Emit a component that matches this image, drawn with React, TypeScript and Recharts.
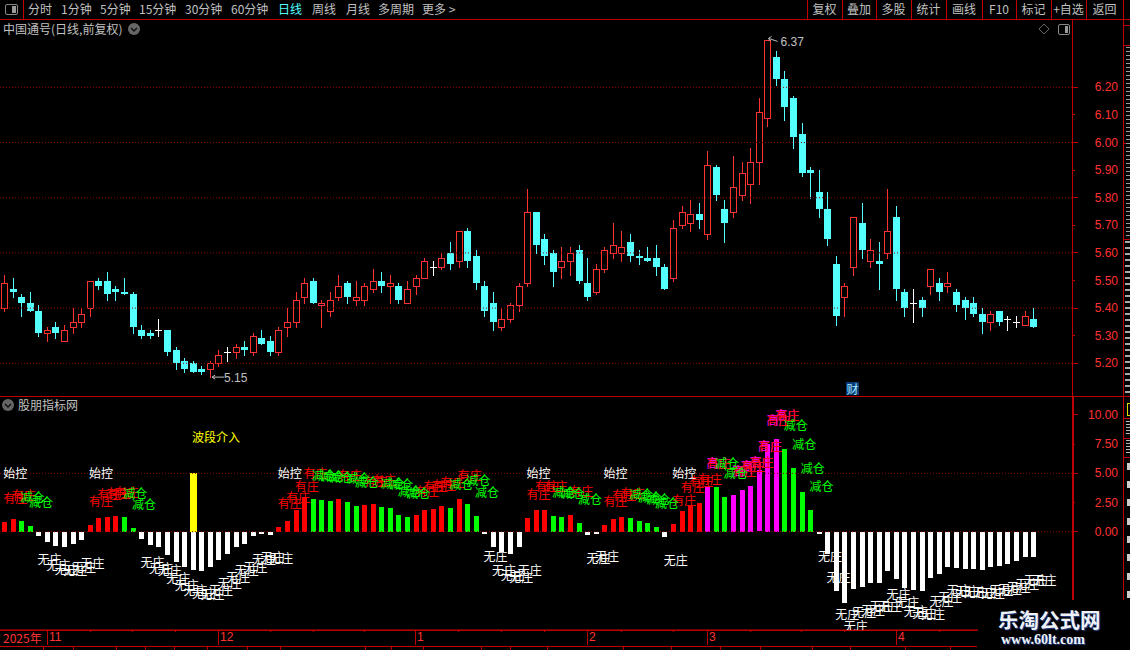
import React from "react";
import {
  Bar,
  ComposedChart,
  Line,
  ReferenceDot,
  ReferenceLine,
  XAxis,
  YAxis,
} from "recharts";

// daily prices
const OPEN = [
  5.4, 5.47, 5.44, 5.42, 5.39, 5.31, 5.33, 5.28, 5.33, 5.35, 5.4, 5.5, 5.5, 5.47, 5.46, 5.45, 5.32, 5.31, 5.32, 5.32,
  5.25, 5.21, 5.2, 5.18, 5.18, 5.2, 5.24, 5.24, 5.26, 5.24, 5.29, 5.28, 5.24, 5.33, 5.35, 5.44, 5.5, 5.41, 5.39, 5.44,
  5.49, 5.43, 5.43, 5.47, 5.5, 5.48, 5.48, 5.42, 5.48, 5.51, 5.55, 5.55, 5.6, 5.57, 5.68, 5.59, 5.48, 5.42, 5.33, 5.36,
  5.41, 5.49, 5.75, 5.65, 5.6, 5.55, 5.57, 5.61, 5.49, 5.46, 5.54, 5.6, 5.6, 5.64, 5.59, 5.58, 5.58, 5.55, 5.51, 5.7,
  5.71, 5.74, 5.67, 5.91, 5.76, 5.75, 5.81, 5.85, 5.93, 6.09, 6.31, 6.23, 6.16, 6.03, 5.9, 5.82, 5.76, 5.56, 5.44, 5.55,
  5.71, 5.57, 5.57, 5.6, 5.73, 5.46, 5.42, 5.43, 5.48, 5.49, 5.48, 5.46, 5.43, 5.42, 5.38, 5.35, 5.39, 5.36, 5.35, 5.34,
  5.36,
];
const HIGH = [
  5.52, 5.51, 5.45, 5.46, 5.41, 5.33, 5.35, 5.34, 5.4, 5.4, 5.5, 5.51, 5.53, 5.48, 5.51, 5.46, 5.34, 5.32, 5.36, 5.32,
  5.26, 5.22, 5.21, 5.19, 5.21, 5.25, 5.26, 5.27, 5.28, 5.31, 5.32, 5.3, 5.33, 5.4, 5.46, 5.51, 5.51, 5.43, 5.46, 5.52,
  5.5, 5.5, 5.49, 5.54, 5.53, 5.52, 5.49, 5.5, 5.52, 5.58, 5.57, 5.6, 5.64, 5.68, 5.69, 5.61, 5.5, 5.46, 5.4, 5.42,
  5.49, 5.83, 5.75, 5.67, 5.61, 5.62, 5.62, 5.63, 5.58, 5.56, 5.62, 5.71, 5.68, 5.67, 5.61, 5.62, 5.63, 5.56, 5.72, 5.77,
  5.79, 5.78, 5.97, 5.92, 5.79, 5.95, 5.93, 5.98, 6.16, 6.37, 6.33, 6.26, 6.17, 6.07, 5.91, 5.9, 5.82, 5.59, 5.49, 5.73,
  5.78, 5.65, 5.64, 5.83, 5.77, 5.47, 5.47, 5.44, 5.54, 5.51, 5.53, 5.47, 5.44, 5.44, 5.4, 5.39, 5.39, 5.37, 5.37, 5.39,
  5.4,
];
const LOW = [
  5.39, 5.44, 5.37, 5.39, 5.3, 5.28, 5.29, 5.28, 5.31, 5.33, 5.37, 5.47, 5.43, 5.43, 5.45, 5.31, 5.29, 5.29, 5.3, 5.23,
  5.18, 5.17, 5.17, 5.16, 5.15, 5.19, 5.21, 5.22, 5.23, 5.23, 5.27, 5.23, 5.23, 5.3, 5.33, 5.42, 5.42, 5.33, 5.37, 5.43,
  5.42, 5.41, 5.41, 5.46, 5.46, 5.42, 5.42, 5.42, 5.45, 5.51, 5.52, 5.54, 5.54, 5.55, 5.55, 5.47, 5.37, 5.32, 5.32, 5.35,
  5.39, 5.48, 5.6, 5.56, 5.48, 5.51, 5.52, 5.49, 5.43, 5.45, 5.53, 5.58, 5.57, 5.57, 5.56, 5.57, 5.52, 5.47, 5.5, 5.69,
  5.68, 5.69, 5.65, 5.79, 5.64, 5.73, 5.79, 5.78, 5.85, 6.06, 6.21, 6.08, 5.98, 5.88, 5.8, 5.73, 5.63, 5.34, 5.37, 5.52,
  5.58, 5.55, 5.47, 5.58, 5.43, 5.37, 5.35, 5.37, 5.45, 5.43, 5.46, 5.39, 5.36, 5.37, 5.31, 5.32, 5.34, 5.32, 5.33, 5.34,
  5.33,
];
const CLOSE = [
  5.49, 5.46, 5.42, 5.39, 5.31, 5.32, 5.31, 5.32, 5.35, 5.38, 5.5, 5.48, 5.45, 5.46, 5.45, 5.33, 5.3, 5.3, 5.32, 5.24,
  5.2, 5.18, 5.17, 5.17, 5.2, 5.23, 5.24, 5.26, 5.25, 5.3, 5.27, 5.24, 5.32, 5.35, 5.43, 5.49, 5.42, 5.42, 5.43, 5.48,
  5.44, 5.44, 5.48, 5.5, 5.48, 5.49, 5.43, 5.47, 5.51, 5.57, 5.55, 5.58, 5.56, 5.68, 5.57, 5.49, 5.39, 5.35, 5.36, 5.41,
  5.48, 5.75, 5.63, 5.59, 5.53, 5.57, 5.6, 5.5, 5.44, 5.54, 5.61, 5.63, 5.62, 5.59, 5.58, 5.57, 5.55, 5.47, 5.69, 5.75,
  5.74, 5.72, 5.92, 5.81, 5.71, 5.84, 5.89, 5.93, 6.11, 6.37, 6.23, 6.13, 6.02, 5.89, 5.89, 5.76, 5.65, 5.37, 5.48, 5.73,
  5.61, 5.61, 5.56, 5.68, 5.47, 5.4, 5.42, 5.4, 5.54, 5.46, 5.49, 5.41, 5.4, 5.38, 5.35, 5.38, 5.35, 5.36, 5.35, 5.37,
  5.33,
];

// indicator histogram
const HIST = [
  0.83, 1.09, 0.91, 0.49, -0.37, -0.89, -1.23, -1.31, -1.06, -0.71, 0.57, 1.17, 1.26, 1.34, 1.26, 0.31, -0.63, -1.14, -1.31, -2.0,
  -2.6, -3.03, -3.29, -3.37, -3.03, -2.43, -1.91, -1.31, -1.06, -0.37, -0.2, -0.29, 0.4, 0.91, 1.89, 2.97, 2.8, 2.71, 2.63, 2.8,
  2.54, 2.2, 2.29, 2.37, 2.11, 2.03, 1.43, 1.26, 1.43, 1.86, 1.94, 2.2, 2.03, 2.8, 2.37, 1.34, -0.11, -1.31, -1.74, -1.91,
  -1.31, 1.17, 1.86, 1.86, 1.34, 1.26, 1.43, 0.74, -0.29, -0.11, 0.57, 1.09, 1.26, 1.17, 0.91, 0.74, 0.43, -0.46, 0.66, 1.77,
  2.29, 2.46, 3.86, 3.86, 3.0, 3.14, 3.57, 3.91, 5.26, 7.5, 7.94, 7.09, 5.46, 3.4, 1.86, -0.11, -1.91, -5.09, -6.11, -4.91,
  -4.74, -4.4, -4.4, -3.37, -4.06, -4.83, -5.0, -5.09, -3.97, -3.63, -3.03, -3.11, -3.2, -3.2, -3.29, -3.03, -2.94, -2.77, -2.51, -2.17,
  -2.17,
];
// r 有庄, g 减仓, w 无庄, m 高庄
const KINDS = (
  "rrgg" + "wwwwww" + "rrrr" + "gg" + "wwwwwwwwwwwwwwww" + "rrrr" + "ggg" + "r" + "gg" + "rr" + "gggg" + "rrrr" + "g" + "r" +
  "gg" + "wwwww" + "rrr" + "gg" + "r" + "g" + "ww" + "rrr" + "gggg" + "w" + "rrrr" + "m" + "gg" + "mmmmmm" + "gggg" +
  "wwwwwwwwwwwwwwwwwwwwwwwwww"
).split("");
const START_DAYS = [0, 10, 32, 61, 70, 78];
const ENTRY_DAY = 22;
const ENTRY_LEVEL = 5.03;
const ENTRY_TEXT_LEVEL = 8.05;
const START_LEVEL = 5;

const BLANK_DAYS = 4;
const PRICE_TICKS = [5.2, 5.3, 5.4, 5.5, 5.6, 5.7, 5.8, 5.9, 6.0, 6.1, 6.2];
const PRICE_GRID = [5.2, 5.4, 5.6, 5.8, 6.0, 6.2];
const HIST_TICKS = [0, 2.5, 5, 7.5, 10];
const HIST_GRID = [0, 5];
const MONTH_DAYS = [5, 25, 48, 68, 82, 104];
const MONTH_LABELS = ["11", "12", "1", "2", "3", "4"];
const MINOR_DAYS = [10, 15, 20, 31, 36, 42, 53, 58, 63, 72, 78, 87, 93, 98, 109, 115];

const TOOLBAR_LEFT = [
  ["分时", 28], ["1分钟", 61], ["5分钟", 100], ["15分钟", 139], ["30分钟", 185], ["60分钟", 231],
  ["日线", 278], ["周线", 312], ["月线", 346], ["多周期", 378], ["更多 >", 422],
] as [string, number][];
const TOOLBAR_RIGHT = ["复权", "叠加", "多股", "统计", "画线", "F10", "标记", "+自选", "返回"];
const TOOLBAR_SEPS = [807, 842, 876, 911, 946, 982, 1016, 1051, 1086, 1123];
const FOOT_SEPS = [43, 73, 116, 145, 174, 207, 247, 280, 365, 391, 423, 481, 510, 547, 623, 671, 720, 760, 812, 850, 905, 950];
const SIDE_LINES = [25, 45, 143, 239, 418, 438, 457];
const SIDE_BLOCKS = [463, 481, 499, 518, 536, 554, 573, 591];

const CN = '"Noto Sans CJK SC", sans-serif';
const NUM = '"Liberation Sans", sans-serif';
const FRAME = "#c00000";
const AXIS_RED = "#ff3232";
const CYAN = "#54ffff";
const GREY = "#c0c0c0";
const KIND_COLOR: Record<string, string> = { r: "#ff0000", g: "#00ff00", w: "#ffffff", m: "#ff00ff" };

const rows = [...OPEN, ...Array(BLANK_DAYS).fill(null)].map((o, i) => {
  if (o == null) return { idx: i };
  const v = HIST[i];
  const k = KINDS[i];
  return {
    idx: i,
    open: o,
    high: HIGH[i],
    low: LOW[i],
    close: CLOSE[i],
    range: [LOW[i], HIGH[i]],
    hist: v,
    kind: k,
    entry: i === ENTRY_DAY ? ENTRY_LEVEL : null,
    redY: k === "r" || k === "m" ? v + 2 : null,
    magentaY: k === "m" ? v + 2 : null,
    greenY: k === "g" ? v + 2 : null,
    whiteY: k === "w" ? v - 2 : null,
    startY: START_DAYS.includes(i) ? START_LEVEL : null,
    entryTextY: i === ENTRY_DAY ? ENTRY_TEXT_LEVEL : null,
  };
});

function Candle(props: any) {
  const { x, y, width, height, payload } = props;
  if (payload.open == null) return null;
  const { open, high, low, close } = payload;
  const span = high - low || 1;
  const at = (v: number) => Math.round(y + ((high - v) / span) * height);
  const px = Math.floor(x + width / 2);
  const top = at(Math.max(open, close));
  const bot = at(Math.min(open, close));
  const hi = at(high);
  const lo = at(low);
  if (close === open) {
    return (
      <g shapeRendering="crispEdges" fill="#fff">
        <rect x={px} y={hi} width={1} height={lo - hi + 1} />
        <rect x={px - 3} y={top} width={7} height={1} />
      </g>
    );
  }
  if (close > open) {
    return (
      <g shapeRendering="crispEdges">
        <rect x={px} y={hi} width={1} height={top - hi} fill={AXIS_RED} />
        <rect x={px} y={bot} width={1} height={lo - bot + 1} fill={AXIS_RED} />
        <rect x={px - 2.5} y={top + 0.5} width={6} height={bot - top} fill="#000" stroke={AXIS_RED} />
      </g>
    );
  }
  return (
    <g shapeRendering="crispEdges" fill={CYAN}>
      <rect x={px} y={hi} width={1} height={lo - hi + 1} />
      <rect x={px - 3} y={top} width={7} height={Math.max(bot - top, 1)} />
    </g>
  );
}

function HistBar(props: any) {
  const { x, y, width, height, payload } = props;
  if (payload.hist == null) return null;
  const px = Math.floor(x + width / 2);
  const top = Math.min(y, y + height);
  return (
    <rect
      x={px - 2}
      y={Math.round(top)}
      width={5}
      height={Math.max(Math.round(Math.abs(height)), 2)}
      fill={KIND_COLOR[payload.kind]}
      shapeRendering="crispEdges"
    />
  );
}

function EntryBar(props: any) {
  const { x, y, width, height } = props;
  if (!height) return null;
  const px = Math.floor(x + width / 2);
  return <rect x={px - 3} y={y} width={7} height={height} fill="#ffff00" shapeRendering="crispEdges" />;
}

const textDot = (text: string, color: string) => (p: any) => {
  if (p.cy == null || p.value == null) return <g key={p.index} />;
  return (
    <text
      key={p.index}
      x={p.cx - 1}
      y={p.cy - 1}
      dominantBaseline="central"
      fontFamily={CN}
      fontSize={12}
      fill={color}
    >
      {text}
    </text>
  );
};

const valueTick = (majors: number[]) => (p: any) => {
  const v = p.payload.value;
  const yy = Math.floor(p.y);
  return (
    <g>
      <rect x={1073} y={yy} width={majors.includes(v) ? 5 : 2} height={1} fill={FRAME} />
      <text x={1118} y={p.y} dominantBaseline="central" textAnchor="end" fontFamily={NUM} fontSize={12} fill={AXIS_RED}>
        {v.toFixed(2)}
      </text>
    </g>
  );
};

function TimeTick(p: any) {
  const at = MONTH_DAYS.indexOf(p.payload.value);
  const px = Math.floor(p.x);
  if (at < 0) return <rect x={px} y={631} width={1} height={2} fill={FRAME} transform={`translate(0 ${p.y - 631})`} />;
  return (
    <g transform={`translate(0 ${p.y - 631})`}>
      <rect x={px} y={631} width={1} height={15} fill={FRAME} />
      <text x={px + 2} y={638} dominantBaseline="central" fontFamily={NUM} fontSize={12} fill={AXIS_RED}>
        {MONTH_LABELS[at]}
      </text>
    </g>
  );
}

const LowNote = (p: any) => (
  <g>
    <path d={`M${p.cx + 2} ${p.cy}h12M${p.cx + 2} ${p.cy}l3 -2M${p.cx + 2} ${p.cy}l3 2`} stroke={GREY} fill="none" />
    <text x={p.cx + 14} y={p.cy + 1} dominantBaseline="central" fontFamily={NUM} fontSize={12} fill={GREY}>
      5.15
    </text>
  </g>
);

const HighNote = (p: any) => (
  <g>
    <path d={`M${p.cx + 1} ${p.cy - 2}l9 3M${p.cx + 1} ${p.cy - 2}l3 -2M${p.cx + 1} ${p.cy - 2}l2 3`} stroke={GREY} fill="none" />
    <text x={p.cx + 13} y={p.cy + 2} dominantBaseline="central" fontFamily={NUM} fontSize={12} fill={GREY}>
      6.37
    </text>
  </g>
);

function Abs({ x, y, w, h, bg, children, style }: any) {
  return (
    <div
      style={{
        position: "absolute",
        left: x,
        top: y,
        width: w,
        height: h,
        background: bg,
        ...style,
      }}
    >
      {children}
    </div>
  );
}

function Label({ x, y, color = GREY, children, font = CN }: any) {
  return (
    <div
      style={{
        position: "absolute",
        left: x,
        top: y - 8,
        height: 16,
        lineHeight: "16px",
        fontFamily: font,
        fontSize: 12,
        color,
        whiteSpace: "nowrap",
      }}
    >
      {children}
    </div>
  );
}

function Chevron({ x, y }: { x: number; y: number }) {
  return (
    <svg style={{ position: "absolute", left: x - 7, top: y - 7 }} width={14} height={14}>
      <circle cx={7} cy={7} r={6} fill="#666" />
      <path d="M4 6l3 3l3 -3" stroke="#111" strokeWidth={1.5} fill="none" />
    </svg>
  );
}

function PriceChart() {
  return (
    <ComposedChart
      width={1130}
      height={397}
      data={rows}
      margin={{ top: 19, right: 0, bottom: 1, left: 0 }}
      style={{ position: "absolute", left: 0, top: 0 }}
    >
      <XAxis dataKey="idx" hide />
      <YAxis
        orientation="right"
        width={58}
        domain={[5.0816, 6.4475]}
        allowDataOverflow
        ticks={PRICE_TICKS}
        interval={0}
        axisLine={false}
        tickLine={false}
        tick={valueTick(PRICE_GRID)}
      />
      {PRICE_GRID.map((v) => (
        <ReferenceLine key={v} y={v} stroke="#8c0000" strokeDasharray="1 2" />
      ))}
      <Bar dataKey="range" barSize={7} isAnimationActive={false} shape={Candle} />
      <ReferenceDot x={24} y={5.15} r={0} shape={LowNote} />
      <ReferenceDot x={89} y={6.37} r={0} shape={HighNote} />
    </ComposedChart>
  );
}

function HistChart() {
  return (
    <ComposedChart
      width={1130}
      height={249}
      data={rows}
      stackOffset="sign"
      margin={{ top: 0, right: 0, bottom: 0, left: 0 }}
      style={{ position: "absolute", left: 0, top: 397 }}
    >
      <XAxis
        dataKey="idx"
        height={16}
        interval={0}
        ticks={[...MONTH_DAYS, ...MINOR_DAYS]}
        axisLine={{ stroke: FRAME, strokeWidth: 1 }}
        tickLine={false}
        tickSize={0}
        tickMargin={0}
        tick={TimeTick}
      />
      <YAxis
        orientation="right"
        width={58}
        domain={[-8.423, 11.542]}
        allowDataOverflow
        ticks={HIST_TICKS}
        interval={0}
        axisLine={false}
        tickLine={false}
        tick={valueTick(HIST_GRID.concat(10))}
      />
      {HIST_GRID.map((v) => (
        <ReferenceLine key={v} y={v} stroke="#8c0000" strokeDasharray="1 2" />
      ))}
      <Bar dataKey="entry" stackId="a" barSize={7} isAnimationActive={false} shape={EntryBar} />
      <Bar dataKey="hist" stackId="a" barSize={7} isAnimationActive={false} shape={HistBar} />
      <Line dataKey="whiteY" stroke="none" isAnimationActive={false} activeDot={false} dot={textDot("无庄", "#ffffff")} />
      <Line dataKey="magentaY" stroke="none" isAnimationActive={false} activeDot={false} dot={textDot("高庄", "#ff00ff")} />
      <Line dataKey="redY" stroke="none" isAnimationActive={false} activeDot={false} dot={textDot("有庄", "#ff0000")} />
      <Line dataKey="greenY" stroke="none" isAnimationActive={false} activeDot={false} dot={textDot("减仓", "#00ff00")} />
      <Line dataKey="startY" stroke="none" isAnimationActive={false} activeDot={false} dot={textDot("始控", "#ffffff")} />
      <Line dataKey="entryTextY" stroke="none" isAnimationActive={false} activeDot={false} dot={textDot("波段介入", "#ffff00")} />
    </ComposedChart>
  );
}

export default function App() {
  return (
    <div style={{ position: "absolute", left: 0, top: 0, width: 1130, height: 650, background: "#000", overflow: "hidden" }}>
      <style>{"body{margin:0;background:#000}"}</style>
      <PriceChart />
      <HistChart />

      {/* toolbar */}
      <Abs x={0} y={19} w={1130} h={1} bg={FRAME} />
      <Abs x={23} y={0} w={1} h={19} bg={FRAME} />
      <Abs x={5} y={4} w={11} h={9} style={{ border: "1px solid #888", borderRadius: 2 }}>
        <Abs x={6} y={1} w={4} h={7} bg="#999" />
      </Abs>
      {TOOLBAR_LEFT.map(([t, x]) => (
        <Label key={t} x={x} y={9} color={t === "日线" ? CYAN : GREY}>
          {t}
        </Label>
      ))}
      {TOOLBAR_SEPS.map((x) => (
        <Abs key={x} x={x} y={0} w={1} h={19} bg={FRAME} />
      ))}
      {TOOLBAR_RIGHT.map((t, i) => (
        <div
          key={t}
          style={{
            position: "absolute",
            left: TOOLBAR_SEPS[i],
            width: TOOLBAR_SEPS[i + 1] - TOOLBAR_SEPS[i],
            top: 1,
            height: 16,
            lineHeight: "16px",
            textAlign: "center",
            fontFamily: CN,
            fontSize: 12,
            color: GREY,
          }}
        >
          {t}
        </div>
      ))}

      {/* panel frame */}
      <Abs x={0} y={396} w={1130} h={1} bg={FRAME} />
      <Abs x={1072} y={20} w={1} h={376} bg={FRAME} />
      <Abs x={1072} y={397} w={2} h={203} bg={FRAME} />
      <Abs x={1123} y={20} w={1} h={580} bg={FRAME} />
      {SIDE_LINES.map((y) => (
        <Abs key={y} x={1123} y={y} w={7} h={1} bg={FRAME} />
      ))}
      <Abs
        x={1126}
        y={47}
        w={4}
        h={190}
        style={{ background: "repeating-linear-gradient(#999 0 1px,#000 1px 4px)" }}
      />
      <Abs
        x={1125}
        y={241}
        w={5}
        h={153}
        style={{ background: "repeating-linear-gradient(#aaa 0 2px,#000 2px 6px)" }}
      />
      <Abs x={1127} y={403} w={3} h={13} style={{ border: "1px solid #dddd00", borderRight: "none", boxSizing: "border-box" }} />
      <Abs x={1126} y={421} w={4} h={14} style={{ background: "repeating-linear-gradient(#bbb 0 1px,#000 1px 3px)" }} />
      <Abs x={1126} y={440} w={4} h={14} style={{ background: "repeating-linear-gradient(#bbb 0 1px,#000 1px 3px)" }} />
      {SIDE_BLOCKS.map((y) => (
        <Abs key={y} x={1127} y={y} w={3} h={7} bg="#ccc" />
      ))}

      {/* titles */}
      <Label x={3} y={29}>中国通号(日线,前复权)</Label>
      <Chevron x={134} y={29} />
      <Label x={18} y={405}>股朋指标网</Label>
      <Chevron x={8} y={405} />
      <svg style={{ position: "absolute", left: 1038, top: 23 }} width={14} height={14}>
        <path d="M6 1l5 5l-5 5l-5 -5z" stroke="#666" fill="none" />
      </svg>
      <Abs x={1058} y={24} w={10} h={9} style={{ border: "1px solid #888", borderRadius: 2 }}>
        <Abs x={6} y={1} w={3} h={7} bg="#999" />
      </Abs>
      <Abs
        x={846}
        y={382}
        w={13}
        h={13}
        bg="#0b3a78"
        style={{ color: "#9fe8ff", fontFamily: CN, fontSize: 12, lineHeight: "13px", textAlign: "center" }}
      >
        财
      </Abs>

      {/* time axis */}
      <Abs x={0} y={630} w={977} h={1} bg={FRAME} />
      <Abs x={0} y={646} w={977} h={1} bg={FRAME} />
      <Label x={3} y={638} color={AXIS_RED} font={CN}>2025年</Label>
      {FOOT_SEPS.map((x) => (
        <Abs key={x} x={x} y={647} w={1} h={3} bg={FRAME} />
      ))}

      {/* watermark */}
      <Abs x={978} y={600} w={152} h={50} bg="#000" />
      <div
        style={{
          position: "absolute",
          left: 998,
          top: 606,
          fontFamily: CN,
          fontWeight: 700,
          fontSize: 20.5,
          lineHeight: "26px",
          color: "#eef2f6",
          textShadow: "1px 1px 1px #27408b",
          whiteSpace: "nowrap",
        }}
      >
        乐淘公式网
      </div>
      <div
        style={{
          position: "absolute",
          left: 1001,
          top: 632,
          fontFamily: '"Liberation Serif", serif',
          fontWeight: 700,
          fontSize: 14,
          lineHeight: "16px",
          color: "#eef2f6",
          textShadow: "1px 1px 1px #27408b",
          whiteSpace: "nowrap",
        }}
      >
        www.60lt.com
      </div>
    </div>
  );
}
